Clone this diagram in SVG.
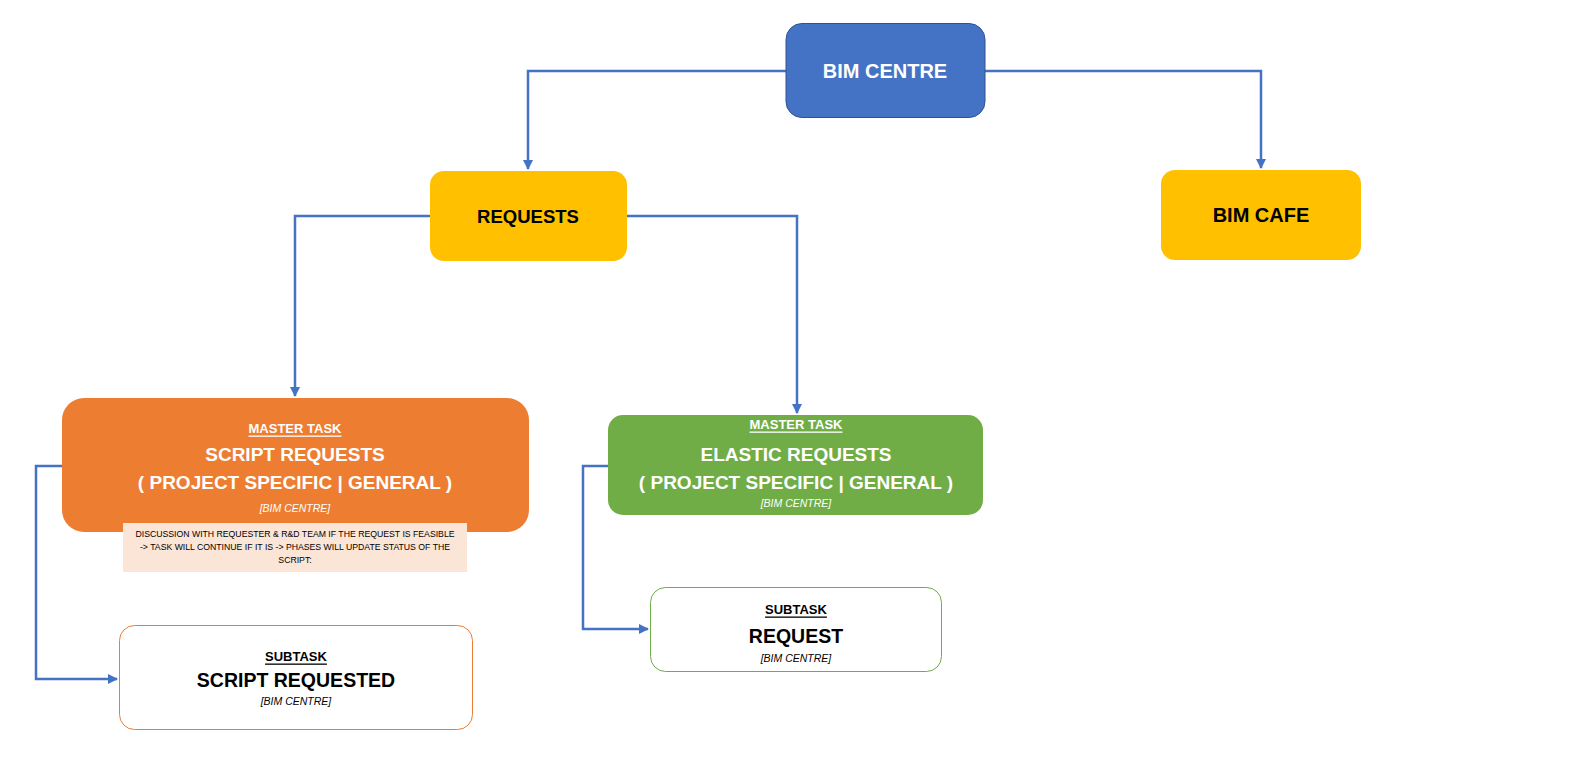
<svg xmlns="http://www.w3.org/2000/svg" width="1584" height="768" viewBox="0 0 1584 768">
<defs>
<marker id="arr" viewBox="0 0 10 10" refX="9" refY="5" markerWidth="4" markerHeight="4" orient="auto" markerUnits="strokeWidth">
<path d="M0,0 L10,5 L0,10 z" fill="#4472C4"/>
</marker>
<style>
text{font-family:"Liberation Sans",Arial,sans-serif;text-anchor:middle;dominant-baseline:central}
.c{fill:none;stroke:#4472C4;stroke-width:2.5;marker-end:url(#arr)}
.b{font-weight:bold}
.u{font-weight:bold;font-size:13px;text-decoration:underline}
.i{font-style:italic;font-size:10.5px}
.w{fill:#fff}
.k{fill:#000}
</style>
</defs>
<rect width="1584" height="768" fill="#fff"/>
<g id="connectors">
<path class="c" d="M786,71 H528 V169"/>
<path class="c" d="M985,71 H1261 V168"/>
<path class="c" d="M430,216 H295 V396"/>
<path class="c" d="M627,216 H797 V413"/>
<path class="c" d="M62,466 H36 V679 H117"/>
<path class="c" d="M608,466 H583 V629 H648"/>
</g>
<g id="bim-centre">
<rect x="786" y="23.5" width="199" height="94" rx="16" fill="#4472C4" stroke="#2F528F" stroke-width="1"/>
<text x="885" y="71" class="b w" font-size="20">BIM CENTRE</text>
</g>
<g id="requests">
<rect x="430" y="171" width="197" height="90" rx="14" fill="#FFC000"/>
<text x="528" y="216" class="b k" font-size="18.5">REQUESTS</text>
</g>
<g id="bim-cafe">
<rect x="1161" y="170" width="200" height="90" rx="14" fill="#FFC000"/>
<text x="1261" y="215" class="b k" font-size="20">BIM CAFE</text>
</g>
<g id="script-master">
<rect x="62" y="398" width="467" height="134" rx="22" fill="#ED7D31"/>
<text x="295" y="428" class="u w">MASTER TASK</text>
<text x="295" y="454" class="b w" font-size="19">SCRIPT REQUESTS</text>
<text x="295" y="482" class="b w" font-size="19">( PROJECT SPECIFIC | GENERAL )</text>
<text x="295" y="508" class="i w">[BIM CENTRE]</text>
</g>
<g id="script-note">
<rect x="123" y="523" width="344" height="49" fill="#FBE5D6"/>
<text x="295" y="534" font-size="8.7" class="k">DISCUSSION WITH REQUESTER &amp; R&amp;D TEAM IF THE REQUEST IS FEASIBLE</text>
<text x="295" y="547" font-size="8.7" class="k">-&gt; TASK WILL CONTINUE IF IT IS -&gt; PHASES WILL UPDATE STATUS OF THE</text>
<text x="295" y="560" font-size="8.7" class="k">SCRIPT:</text>
</g>
<g id="elastic-master">
<rect x="608" y="415" width="375" height="100" rx="15" fill="#70AD47"/>
<text x="796" y="424" class="u w">MASTER TASK</text>
<text x="796" y="454" class="b w" font-size="19">ELASTIC REQUESTS</text>
<text x="796" y="482" class="b w" font-size="19">( PROJECT SPECIFIC | GENERAL )</text>
<text x="796" y="503" class="i w">[BIM CENTRE]</text>
</g>
<g id="script-subtask">
<rect x="119.5" y="625.5" width="353" height="104" rx="15" fill="#fff" stroke="#ED7D31" stroke-width="1"/>
<text x="296" y="656" class="u k">SUBTASK</text>
<text x="296" y="680" class="b k" font-size="19.5">SCRIPT REQUESTED</text>
<text x="296" y="701" class="i k">[BIM CENTRE]</text>
</g>
<g id="request-subtask">
<rect x="650.5" y="587.5" width="291" height="84" rx="15" fill="#fff" stroke="#70AD47" stroke-width="1"/>
<text x="796" y="609" class="u k">SUBTASK</text>
<text x="796" y="636" class="b k" font-size="19.5">REQUEST</text>
<text x="796" y="658" class="i k">[BIM CENTRE]</text>
</g>
</svg>
